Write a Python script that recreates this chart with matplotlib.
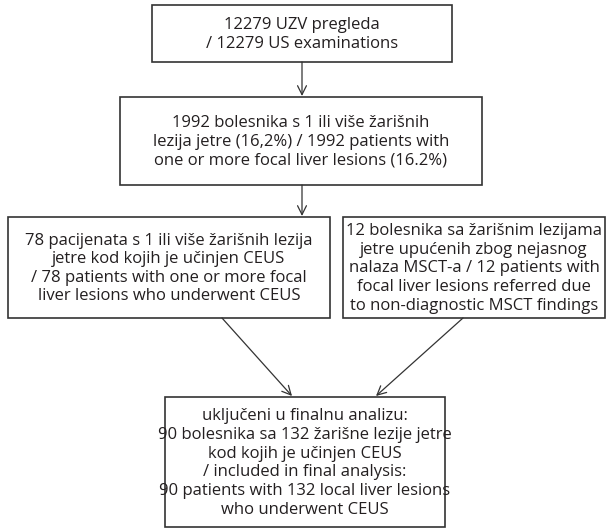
import matplotlib
matplotlib.use("Agg")
import matplotlib.pyplot as plt
from matplotlib.patches import Rectangle

plt.rcParams['font.family'] = ['Open Sans', 'DejaVu Sans']

box_texts = [
    "12279 UZV pregleda\n/ 12279 US examinations",
    "1992 bolesnika s 1 ili više žarišnih\nlezija jetre (16,2%) / 1992 patients with\none or more focal liver lesions (16.2%)",
    "78 pacijenata s 1 ili više žarišnih lezija\njetre kod kojih je učinjen CEUS\n/ 78 patients with one or more focal\nliver lesions who underwent CEUS",
    "12 bolesnika sa žarišnim lezijama\njetre upućenih zbog nejasnog\nnalaza MSCT-a / 12 patients with\nfocal liver lesions referred due\nto non-diagnostic MSCT findings",
    "uključeni u finalnu analizu:\n90 bolesnika sa 132 žarišne lezije jetre\nkod kojih je učinjen CEUS\n/ included in final analysis:\n90 patients with 132 local liver lesions\nwho underwent CEUS",
]

# box geometry in pixel space (left, top, right, bottom)
boxes = [
    (152, 5, 452, 62),
    (120, 97, 482, 185),
    (8, 217, 330, 318),
    (343, 217, 605, 318),
    (165, 397, 445, 527),
]
arrows = [
    ((302, 62), (302, 96)),
    ((302, 185), (302, 216)),
    ((222, 318), (292, 396)),
    ((463, 318), (376, 396)),
]

fig = plt.figure(figsize=(6.12, 5.30), dpi=100)
ax = fig.add_axes([0, 0, 1, 1])
ax.set_xlim(0, 612)
ax.set_ylim(530, 0)
ax.axis('off')

edge = '#333333'
txtc = '#231f20'
for (l, t, r, b), s in zip(boxes, box_texts):
    ax.add_patch(Rectangle((l, t), r - l, b - t, fill=False, edgecolor=edge, lw=1.2))
    ax.text((l + r) / 2, (t + b) / 2 + 1, s, ha='center', va='center', fontsize=12,
            color=txtc, linespacing=1.22)

for (x0, y0), (x1, y1) in arrows:
    ax.annotate('', xy=(x1, y1), xytext=(x0, y0),
                arrowprops=dict(arrowstyle='->', color=edge, lw=0.9,
                                mutation_scale=16, shrinkA=0, shrinkB=0))

fig.savefig('out.png', dpi=100)
